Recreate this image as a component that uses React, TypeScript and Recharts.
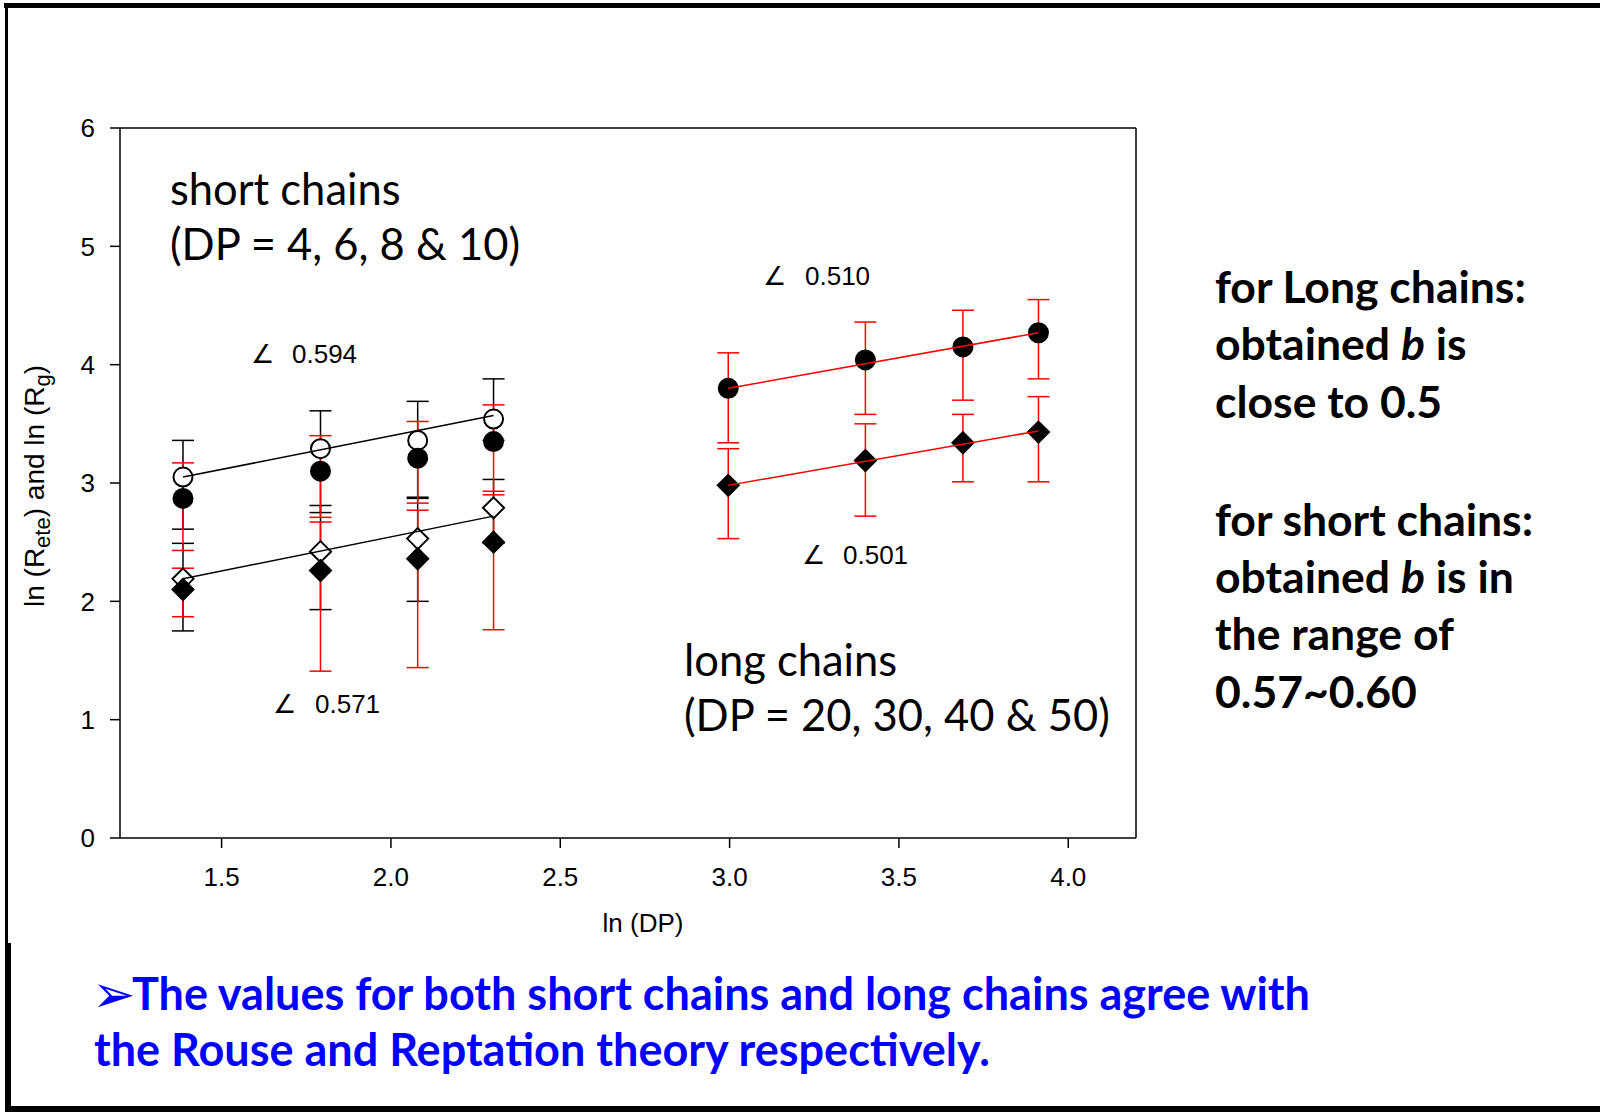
import React from "react";
import { ComposedChart, Scatter, XAxis, YAxis, ErrorBar, ReferenceLine } from "recharts";

// ln(DP) positions
const shortX = [1.386, 1.792, 2.079, 2.303];
const longX = [2.996, 3.401, 3.689, 3.912];

// short chains (DP = 4, 6, 8, 10)
const shortOpenCircle = [3.05, 3.29, 3.36, 3.54];
const shortOpenCircleHi = [3.36, 3.61, 3.69, 3.88];
const shortOpenCircleLo = [2.61, 2.75, 2.87, 3.36];

const shortFilledCircle = [2.87, 3.1, 3.21, 3.35];
const shortFilledCircleHi = [3.17, 3.4, 3.52, 3.66];
const shortFilledCircleLo = [2.43, 2.71, 2.83, 2.93];

const shortOpenDiamond = [2.19, 2.42, 2.53, 2.79];
const shortOpenDiamondHi = [2.49, 2.81, 2.88, 3.03];
const shortOpenDiamondLo = [1.75, 1.93, 2.0, 2.49];

const shortFilledDiamond = [2.1, 2.26, 2.36, 2.5];
const shortFilledDiamondHi = [2.28, 2.67, 2.77, 2.9];
const shortFilledDiamondLo = [1.87, 1.41, 1.44, 1.76];

// long chains (DP = 20, 30, 40, 50)
const longCircle = [3.8, 4.04, 4.15, 4.27];
const longCircleHi = [4.1, 4.36, 4.46, 4.55];
const longCircleLo = [3.34, 3.58, 3.7, 3.88];

const longDiamond = [2.98, 3.19, 3.34, 3.43];
const longDiamondHi = [3.29, 3.5, 3.58, 3.73];
const longDiamondLo = [2.53, 2.72, 3.01, 3.01];

// fitted lines (value at first and last DP)
const shortCircleFit = [3.05, 3.57];
const shortDiamondFit = [2.19, 2.72];
const longCircleFit = [3.8, 4.27];
const longDiamondFit = [2.98, 3.44];

const xTicks = [1.5, 2.0, 2.5, 3.0, 3.5, 4.0];
const yTicks = [0, 1, 2, 3, 4, 5, 6];

const RED = "#ff0000";

const pts = (xs: number[], ys: number[], lo: number[], hi: number[]) =>
  xs.map((x, i) => ({ x, y: ys[i], err: [ys[i] - lo[i], hi[i] - ys[i]] }));

const fitPts = (xs: number[], fit: number[]) => [
  { x: xs[0], y: fit[0] },
  { x: xs[xs.length - 1], y: fit[1] },
];

const Empty = () => <g />;

const circle = (fill: string) => (p: any) => (
  <circle cx={p.cx} cy={p.cy} r={9.5} fill={fill} stroke="#000" strokeWidth={2} />
);

const diamond = (fill: string) => (p: any) => {
  const r = 10.5;
  return (
    <polygon
      points={`${p.cx},${p.cy - r} ${p.cx + r},${p.cy} ${p.cx},${p.cy + r} ${p.cx - r},${p.cy}`}
      fill={fill}
      stroke="#000"
      strokeWidth={2}
    />
  );
};

const series = [
  { data: pts(shortX, shortOpenCircle, shortOpenCircleLo, shortOpenCircleHi), bar: "#000", shape: circle("#fff") },
  { data: pts(shortX, shortOpenDiamond, shortOpenDiamondLo, shortOpenDiamondHi), bar: "#000", shape: diamond("#fff") },
  { data: pts(shortX, shortFilledCircle, shortFilledCircleLo, shortFilledCircleHi), bar: RED, shape: circle("#000") },
  { data: pts(shortX, shortFilledDiamond, shortFilledDiamondLo, shortFilledDiamondHi), bar: RED, shape: diamond("#000") },
  { data: pts(longX, longCircle, longCircleLo, longCircleHi), bar: RED, shape: circle("#000") },
  { data: pts(longX, longDiamond, longDiamondLo, longDiamondHi), bar: RED, shape: diamond("#000") },
];

const fits = [
  { data: fitPts(shortX, shortCircleFit), color: "#000" },
  { data: fitPts(shortX, shortDiamondFit), color: "#000" },
  { data: fitPts(longX, longCircleFit), color: RED },
  { data: fitPts(longX, longDiamondFit), color: RED },
];

const tickStyle = { fill: "#000", fontSize: 26, fontFamily: "Liberation Sans, Arial" };
const big = { fontFamily: "Lato", fontSize: 43.5, fill: "#000" };
const bold = { fontFamily: "Lato", fontSize: 44.5, fontWeight: 700, fill: "#000" };
const blue = { fontFamily: "Lato", fontSize: 45, fontWeight: 700, fill: "#0000ff" };
const small = { fontFamily: "Liberation Sans, Arial", fontSize: 26, fill: "#000" };

export default function App() {
  return (
    <div style={{ position: "absolute", left: 0, top: 0, width: 1600, height: 1112, background: "#fff" }}>
      <ComposedChart width={1600} height={1112} margin={{ top: 128, right: 464, bottom: 214, left: 40 }}>
        <XAxis
          type="number"
          dataKey="x"
          domain={[1.2, 4.2]}
          ticks={xTicks}
          tickFormatter={(v: number) => v.toFixed(1)}
          tickSize={10}
          tickMargin={20}
          height={60}
          allowDataOverflow
          axisLine={{ stroke: "#000", strokeWidth: 1.5 }}
          tickLine={{ stroke: "#000", strokeWidth: 1.5 }}
          tick={tickStyle}
        />
        <YAxis
          type="number"
          dataKey="y"
          domain={[0, 6]}
          ticks={yTicks}
          tickSize={10}
          tickMargin={15}
          width={80}
          allowDataOverflow
          axisLine={{ stroke: "#000", strokeWidth: 1.5 }}
          tickLine={{ stroke: "#000", strokeWidth: 1.5 }}
          tick={tickStyle}
        />
        <ReferenceLine y={6} stroke="#000" strokeWidth={1.5} />
        <ReferenceLine x={4.2} stroke="#000" strokeWidth={1.5} />
        {series.map((s, i) => (
          <Scatter key={`e${i}`} data={s.data} shape={Empty} isAnimationActive={false}>
            <ErrorBar dataKey="err" direction="y" width={11} stroke={s.bar} strokeWidth={1.5} />
          </Scatter>
        ))}
        {series.map((s, i) => (
          <Scatter key={`m${i}`} data={s.data} shape={s.shape} isAnimationActive={false} />
        ))}
        {fits.map((f, i) => (
          <Scatter
            key={`f${i}`}
            data={f.data}
            shape={Empty}
            line={{ stroke: f.color, strokeWidth: 1.5 }}
            isAnimationActive={false}
          />
        ))}
      </ComposedChart>

      <svg width={1600} height={1112} style={{ position: "absolute", left: 0, top: 0, pointerEvents: "none" }}>
        {/* slide border */}
        <rect x={4} y={3} width={1596} height={5} fill="#000" />
        <rect x={5} y={3} width={3} height={940} fill="#000" />
        <rect x={5} y={943} width={6} height={169} fill="#000" />
        <rect x={5} y={1106} width={1595} height={6} fill="#000" />

        {/* axis titles */}
        <text x={643} y={932} textAnchor="middle" {...small}>ln (DP)</text>
        <text transform="translate(44,486) rotate(-90)" textAnchor="middle" {...small} fontSize={28}>
          ln (R<tspan fontSize={22} dy={6}>ete</tspan>
          <tspan dy={-6}>) and ln (R</tspan>
          <tspan fontSize={22} dy={6}>g</tspan>
          <tspan dy={-6}>)</tspan>
        </text>

        {/* slopes */}
        <text x={251} y={363} {...small} fontFamily="DejaVu Sans">∠</text>
        <text x={292} y={363} {...small}>0.594</text>
        <text x={273} y={713} {...small} fontFamily="DejaVu Sans">∠</text>
        <text x={315} y={713} {...small}>0.571</text>
        <text x={763} y={285} {...small} fontFamily="DejaVu Sans">∠</text>
        <text x={805} y={285} {...small}>0.510</text>
        <text x={802} y={564} {...small} fontFamily="DejaVu Sans">∠</text>
        <text x={843} y={564} {...small}>0.501</text>

        {/* group labels */}
        <text x={170} y={205} {...big}>short chains</text>
        <text x={170} y={260} {...big}>(DP = 4, 6, 8 &amp; 10)</text>
        <text x={684} y={676} {...big}>long chains</text>
        <text x={684} y={731} {...big}>(DP = 20, 30, 40 &amp; 50)</text>

        {/* conclusions */}
        <text x={1215} y={303} {...bold}>for Long chains:</text>
        <text x={1215} y={360} {...bold}>
          obtained <tspan fontStyle="italic">b</tspan> is
        </text>
        <text x={1215} y={418} {...bold}>close to 0.5</text>
        <text x={1215} y={536} {...bold}>for short chains:</text>
        <text x={1215} y={593} {...bold}>
          obtained <tspan fontStyle="italic">b</tspan> is in
        </text>
        <text x={1215} y={650} {...bold}>the range of</text>
        <text x={1215} y={708} {...bold}>0.57~0.60</text>

        <text x={92} y={1012} {...blue} fontFamily="DejaVu Sans" fontSize={52}>➢</text>
        <text x={132} y={1010} {...blue}>The values for both short chains and long chains agree with</text>
        <text x={94} y={1066} {...blue}>the Rouse and Reptation theory respectively.</text>
      </svg>
    </div>
  );
}
